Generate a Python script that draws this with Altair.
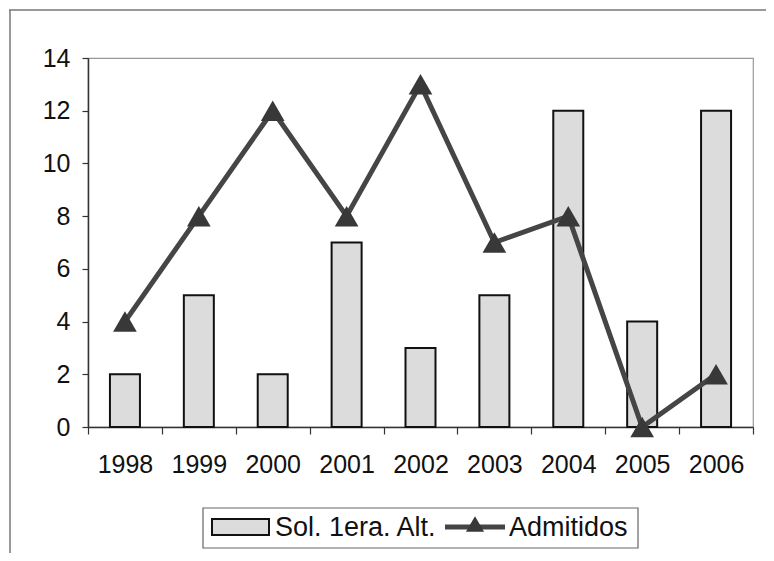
import altair as alt
import pandas as pd

years = ["1998", "1999", "2000", "2001", "2002", "2003", "2004", "2005", "2006"]
solicitudes = [2, 5, 2, 7, 3, 5, 12, 4, 12]
admitidos = [4, 8, 12, 8, 13, 7, 8, 0, 2]
y_ticks = [0, 2, 4, 6, 8, 10, 12, 14]
series_names = ["Sol. 1era. Alt.", "Admitidos"]

df = pd.DataFrame({"year": years, "sol": solicitudes, "adm": admitidos})
one = pd.DataFrame({"k": [0]})

W, H = 665, 369
FONT = "Liberation Sans"
FS = 25
LFS = 27
BAR_FILL = "#dcdcdc"
LINE_COL = "#454545"
TRI_COL = "#383838"

x_enc = alt.X(
    "year:O",
    sort=years,
    scale=alt.Scale(paddingInner=0, paddingOuter=0),
    axis=alt.Axis(
        title=None, labelAngle=0, tickBand="extent", tickSize=7,
        labelFontSize=FS, labelFont=FONT, labelColor="#111", labelPadding=18,
        domainColor="#333", tickColor="#333", domainWidth=1.5, tickWidth=1.2,
    ),
)
y_scale = alt.Scale(domain=[0, 14], nice=False)
y_axis = alt.Axis(
    title=None, values=y_ticks, tickSize=6, grid=False,
    labelFontSize=FS, labelFont=FONT, labelColor="#111", labelPadding=12,
    domainColor="#333", tickColor="#333", domainWidth=1.5, tickWidth=1.2,
)

base = alt.Chart(df)
bars = base.mark_bar(size=30, fill=BAR_FILL, stroke="#111", strokeWidth=2).encode(
    x=x_enc, y=alt.Y("sol:Q", scale=y_scale, axis=y_axis)
)
line = base.mark_line(color=LINE_COL, strokeWidth=5).encode(
    x=alt.X("year:O", sort=years), y=alt.Y("adm:Q", scale=y_scale)
)
pts = base.mark_point(shape="triangle-up", filled=True, size=560, color=TRI_COL, opacity=1).encode(
    x=alt.X("year:O", sort=years), y=alt.Y("adm:Q", scale=y_scale)
)

dec = alt.Chart(one)
# outer chart frame (top and left)
frame_top = dec.mark_rule(color="#777", strokeWidth=1.5).encode(
    x=alt.value(-79), x2=alt.value(678), y=alt.value(-48)
)
frame_left = dec.mark_rule(color="#777", strokeWidth=1.5).encode(
    x=alt.value(-78), y=alt.value(-48), y2=alt.value(495)
)

# legend
leg_box = dec.mark_rect(fill="white", stroke="#666", strokeWidth=1.2).encode(
    x=alt.value(115), x2=alt.value(550), y=alt.value(450), y2=alt.value(490)
)
leg_swatch = dec.mark_rect(fill=BAR_FILL, stroke="#111", strokeWidth=2).encode(
    x=alt.value(124), x2=alt.value(181), y=alt.value(461), y2=alt.value(477)
)
leg_text1 = dec.mark_text(text=series_names[0], font=FONT, fontSize=LFS, align="left",
                          baseline="middle", color="#111").encode(
    x=alt.value(187), y=alt.value(470)
)
leg_line = dec.mark_rule(color=LINE_COL, strokeWidth=5).encode(
    x=alt.value(357), x2=alt.value(417), y=alt.value(469)
)
leg_tri = dec.mark_point(shape="triangle-up", filled=True, size=330, color=TRI_COL, opacity=1).encode(
    x=alt.value(387), y=alt.value(466)
)
leg_text2 = dec.mark_text(text=series_names[1], font=FONT, fontSize=LFS, align="left",
                          baseline="middle", color="#111").encode(
    x=alt.value(421), y=alt.value(470)
)

chart = alt.layer(
    bars, line, pts, frame_top, frame_left,
    leg_box, leg_swatch, leg_text1, leg_line, leg_tri, leg_text2,
).properties(
    width=W, height=H,
    autosize=alt.AutoSizeParams(type="none"),
    padding={"left": 80, "top": 50, "right": 13, "bottom": 126},
    background="white",
).configure_view(stroke="#999", strokeWidth=1.2)

chart.save("out.html", embed_options={"renderer": "svg", "actions": False})
